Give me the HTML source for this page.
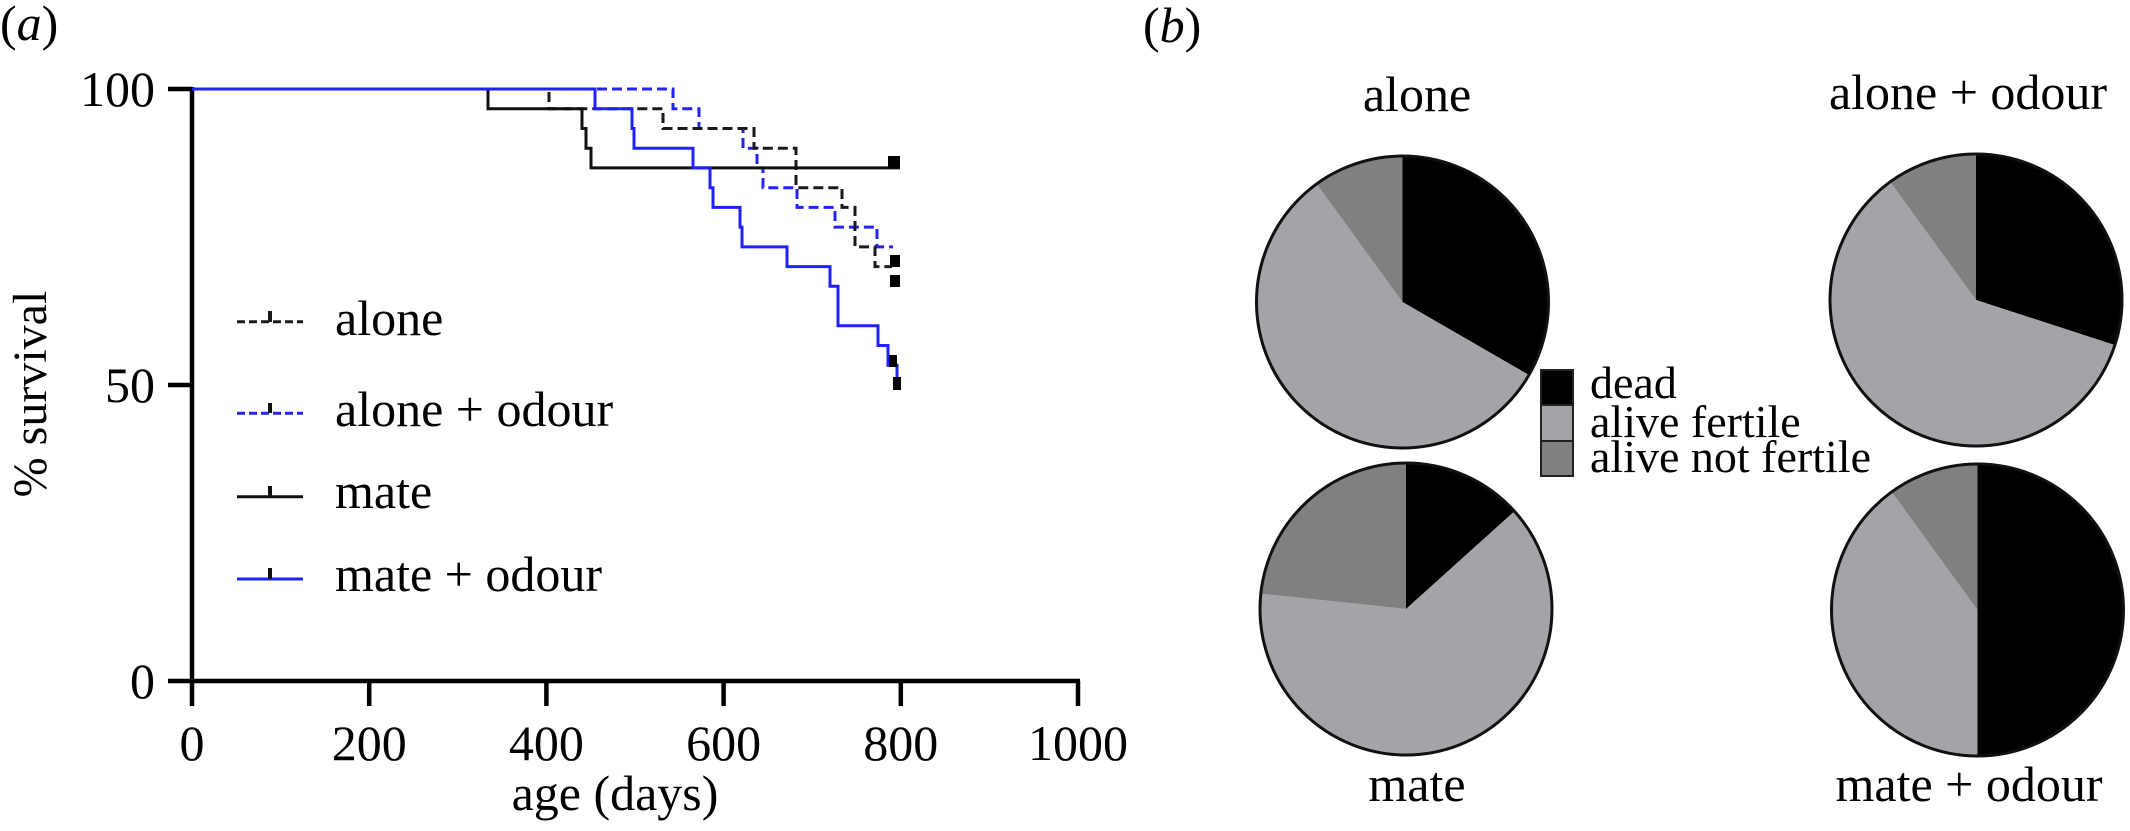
<!DOCTYPE html>
<html>
<head>
<meta charset="utf-8">
<style>
  html, body { margin: 0; padding: 0; background: #fff; }
  svg { display: block; font-family: "Liberation Serif", "DejaVu Serif", serif; }
  svg text { font-family: "Liberation Serif", "DejaVu Serif", serif; fill: #000; }
</style>
</head>
<body>
<svg width="2130" height="831" viewBox="0 0 2130 831" xmlns="http://www.w3.org/2000/svg" font-family="Liberation Serif, DejaVu Serif, serif">
  <rect x="0" y="0" width="2130" height="831" fill="#fff"/>

  <!-- Panel labels -->
  <text x="0" y="40" font-size="50" font-family="Liberation Serif, DejaVu Serif, serif" style="font-family:'Liberation Serif','DejaVu Serif',serif">(<tspan font-style="italic">a</tspan>)</text>
  <text x="1143" y="42" font-size="50" font-family="Liberation Serif, DejaVu Serif, serif" style="font-family:'Liberation Serif','DejaVu Serif',serif">(<tspan font-style="italic">b</tspan>)</text>

  <!-- ===== Panel (a) axes ===== -->
  <g stroke="#000" stroke-width="4.5" fill="none" stroke-linecap="butt">
    <line x1="192" y1="87" x2="192" y2="706"/>
    <line x1="168" y1="681" x2="1080" y2="681"/>
    <line x1="168" y1="89" x2="192" y2="89"/>
    <line x1="168" y1="385" x2="192" y2="385"/>
    <line x1="369.2" y1="681" x2="369.2" y2="706"/>
    <line x1="546.4" y1="681" x2="546.4" y2="706"/>
    <line x1="723.6" y1="681" x2="723.6" y2="706"/>
    <line x1="900.8" y1="681" x2="900.8" y2="706"/>
    <line x1="1078" y1="681" x2="1078" y2="706"/>
  </g>

  <g font-size="50" text-anchor="end" font-family="Liberation Serif, DejaVu Serif, serif" style="font-family:'Liberation Serif','DejaVu Serif',serif">
    <text x="155" y="106">100</text>
    <text x="155" y="402">50</text>
    <text x="155" y="698">0</text>
  </g>
  <g font-size="50" text-anchor="middle" font-family="Liberation Serif, DejaVu Serif, serif" style="font-family:'Liberation Serif','DejaVu Serif',serif">
    <text x="192" y="760">0</text>
    <text x="369.2" y="760">200</text>
    <text x="546.4" y="760">400</text>
    <text x="723.6" y="760">600</text>
    <text x="900.8" y="760">800</text>
    <text x="1078" y="760">1000</text>
  </g>
  <text x="615" y="810" font-size="50" text-anchor="middle" font-family="Liberation Serif, DejaVu Serif, serif" style="font-family:'Liberation Serif','DejaVu Serif',serif">age (days)</text>
  <text transform="translate(46,394) rotate(-90)" font-size="48" text-anchor="middle" font-family="Liberation Serif, DejaVu Serif, serif" style="font-family:'Liberation Serif','DejaVu Serif',serif">% survival</text>

  <!-- ===== Survival curves ===== -->
  <path d="M192,89 H673 V108.7 H699 V128.5 H743 V148.2 H757 V167.9 H763 V187.7 H797 V207.4 H835 V227.1 H877 V246.9 H893"
        fill="none" stroke="#2424f0" stroke-width="3" stroke-dasharray="10 5"/>
  <path d="M192,89 H549 V108.7 H663 V128.5 H754 V148.2 H796 V187.7 H842 V207.4 H855 V246.9 H875 V266.6 H892"
        fill="none" stroke="#1a1a1a" stroke-width="3" stroke-dasharray="10 5"/>
  <path d="M192,89 H488 V108.7 H582 V128.5 H586 V148.2 H591 V167.9 H900"
        fill="none" stroke="#111" stroke-width="3"/>
  <path d="M192,89 H595 V108.7 H632 V128.5 H634 V148.2 H693 V167.9 H710 V187.7 H713 V207.4 H740 V227.1 H742 V246.9 H787 V266.6 H830 V286.3 H838 V325.8 H878 V345.5 H888 V365.2 H897 V385 H900"
        fill="none" stroke="#2020ff" stroke-width="3"/>

  <g fill="#000">
    <rect x="888" y="156" width="12" height="12"/>
    <rect x="890" y="255" width="10" height="12"/>
    <rect x="890" y="275" width="10" height="12"/>
    <rect x="889" y="355" width="8" height="12"/>
    <rect x="893" y="377" width="8" height="13"/>
  </g>

  <!-- Legend (a) -->
  <g fill="none" stroke-width="3">
    <line x1="237" y1="321.7" x2="303" y2="321.7" stroke="#1a1a1a" stroke-dasharray="8 4"/>
    <line x1="270" y1="311" x2="270" y2="322" stroke="#1a1a1a" stroke-width="4"/>
    <line x1="237" y1="413.3" x2="303" y2="413.3" stroke="#2424f0" stroke-dasharray="8 4"/>
    <line x1="270" y1="403" x2="270" y2="413" stroke="#111" stroke-width="4"/>
    <line x1="237" y1="496.7" x2="303" y2="496.7" stroke="#111"/>
    <line x1="270" y1="486" x2="270" y2="497" stroke="#111" stroke-width="4"/>
    <line x1="237" y1="579" x2="303" y2="579" stroke="#2020ff"/>
    <line x1="270" y1="568" x2="270" y2="579" stroke="#111" stroke-width="4"/>
  </g>
  <g font-size="50" font-family="Liberation Serif, DejaVu Serif, serif" style="font-family:'Liberation Serif','DejaVu Serif',serif">
    <text x="335" y="335">alone</text>
    <text x="335" y="426">alone + odour</text>
    <text x="335" y="508">mate</text>
    <text x="335" y="591">mate + odour</text>
  </g>

  <!-- ===== Panel (b) pies ===== -->
  <g>
    <path d="M1402.5,302 L1402.5,156 A146,146 0 0 1 1528.9,375 Z" fill="#000"/>
    <path d="M1402.5,302 L1528.9,375 A146,146 0 1 1 1316.7,183.9 Z" fill="#a3a3a8"/>
    <path d="M1402.5,302 L1316.7,183.9 A146,146 0 0 1 1402.5,156 Z" fill="#808080"/>
    <circle cx="1402.5" cy="302" r="146" fill="none" stroke="#111" stroke-width="3"/>
  </g>
  <g>
    <path d="M1976,300 L1976,154 A146,146 0 0 1 2114.9,345.1 Z" fill="#000"/>
    <path d="M1976,300 L2114.9,345.1 A146,146 0 1 1 1890.2,181.9 Z" fill="#a3a3a8"/>
    <path d="M1976,300 L1890.2,181.9 A146,146 0 0 1 1976,154 Z" fill="#808080"/>
    <circle cx="1976" cy="300" r="146" fill="none" stroke="#111" stroke-width="3"/>
  </g>
  <g>
    <path d="M1406,609 L1406,463 A146,146 0 0 1 1514.5,511.3 Z" fill="#000"/>
    <path d="M1406,609 L1514.5,511.3 A146,146 0 1 1 1260.8,593.7 Z" fill="#a3a3a8"/>
    <path d="M1406,609 L1260.8,593.7 A146,146 0 0 1 1406,463 Z" fill="#808080"/>
    <circle cx="1406" cy="609" r="146" fill="none" stroke="#111" stroke-width="3"/>
  </g>
  <g>
    <path d="M1977.5,610 L1977.5,464 A146,146 0 0 1 1977.5,756 Z" fill="#000"/>
    <path d="M1977.5,610 L1977.5,756 A146,146 0 0 1 1891.7,491.9 Z" fill="#a3a3a8"/>
    <path d="M1977.5,610 L1891.7,491.9 A146,146 0 0 1 1977.5,464 Z" fill="#808080"/>
    <circle cx="1977.5" cy="610" r="146" fill="none" stroke="#111" stroke-width="3"/>
  </g>

  <g font-size="50" text-anchor="middle" font-family="Liberation Serif, DejaVu Serif, serif" style="font-family:'Liberation Serif','DejaVu Serif',serif">
    <text x="1417" y="111">alone</text>
    <text x="1968" y="109">alone + odour</text>
    <text x="1417" y="801">mate</text>
    <text x="1969" y="801">mate + odour</text>
  </g>

  <!-- Legend (b) -->
  <g stroke="#222" stroke-width="2">
    <rect x="1541" y="370" width="32" height="35" fill="#000"/>
    <rect x="1541" y="405" width="32" height="36" fill="#a3a3a8"/>
    <rect x="1541" y="441" width="32" height="35" fill="#808080"/>
  </g>
  <g font-size="46" font-family="Liberation Serif, DejaVu Serif, serif" style="font-family:'Liberation Serif','DejaVu Serif',serif">
    <text x="1590" y="398">dead</text>
    <text x="1590" y="437">alive fertile</text>
    <text x="1590" y="472">alive not fertile</text>
  </g>
</svg>
</body>
</html>
